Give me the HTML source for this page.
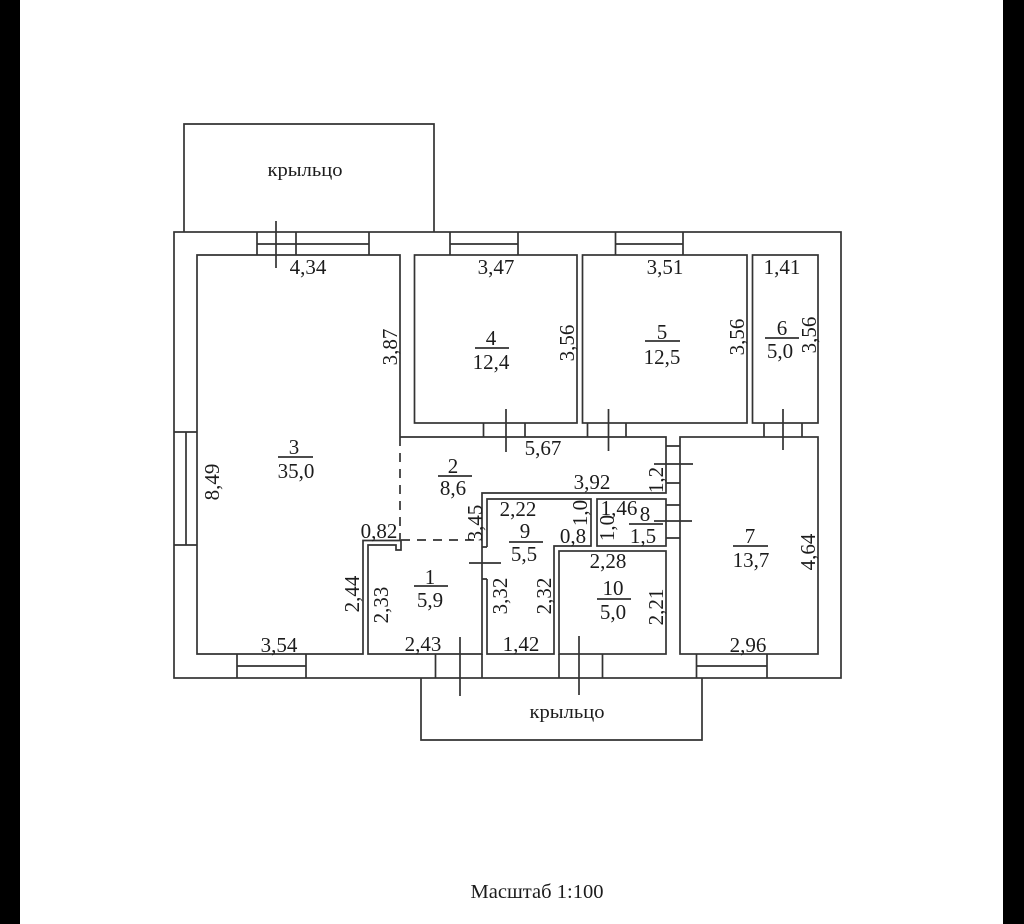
<!DOCTYPE html>
<html><head><meta charset="utf-8"><style>
html,body{margin:0;padding:0;background:#fff}
svg{display:block}
text{font-family:"Liberation Serif",serif;font-size:21px;fill:#1c1c1c;text-anchor:middle}
.l{fill:none;stroke:#333;stroke-width:1.7}
</style></head><body>
<svg width="1024" height="924" viewBox="0 0 1024 924" xmlns="http://www.w3.org/2000/svg">
<rect width="1024" height="924" fill="#fff"/>
<rect x="0" y="0" width="20" height="924" fill="#000"/>
<rect x="1003" y="0" width="21" height="924" fill="#000"/>
<g class="l">
<rect x="174" y="232" width="667" height="446"/>
<path d="M184 232V124H434V232"/>
<path d="M421 678V740H702V678"/>
<path d="M400 437V255H197V654H363V540.5H401V550H396V545H368V654H482V493H666V437H400"/>
<path d="M400 437V540M401 540H482" stroke-dasharray="9 7"/>
<rect x="414.500" y="255" width="162.500" height="168"/>
<rect x="582.500" y="255" width="164.500" height="168"/>
<rect x="752.500" y="255" width="65.500" height="168"/>
<rect x="680" y="437" width="138" height="217"/>
<rect x="597" y="499" width="69" height="47"/>
<rect x="559" y="551" width="107" height="103"/>
<path d="M487 547V499H591V546H554V654H487V579"/>
<path d="M482 547H487M482 579H487"/>
<!-- windows -->
<path d="M257 232V255M369 232V255M296 232V255M257 244H369"/>
<path d="M450 232V255M518 232V255M450 244H518"/>
<path d="M615.500 232V255M683 232V255M615.500 244H683"/>
<path d="M174 432H197M174 545H197M186 432V545"/>
<path d="M237 654V678M306 654V678M237 666H306"/>
<path d="M696.500 654V678M767 654V678M696.500 666H767"/>
<!-- doors -->
<path d="M483.500 423V437M525 423V437M506 409V452"/>
<path d="M587.500 423V437M626 423V437M608.500 409V451"/>
<path d="M764 423V437M802 423V437M783 409V450"/>
<path d="M276 221V268"/>
<path d="M666 446H680M666 483H680M654 464H693"/>
<path d="M666 505H680M666 538H680M654 521H692"/>
<path d="M469 563H501"/>
<path d="M435.500 654V678M482 654V678M460 637V696"/>
<path d="M559 654V678M602.500 654V678M579 636V695"/>
<!-- fraction lines -->
<path d="M278 457H313M475 348H509M645 341H680M765 338H799M438 476H472M509 542H543M629 524H663M414 586H448M597 599H631M733 546H768"/>
</g>
<text x="305" y="176" style="font-size:19px" textLength="75" lengthAdjust="spacingAndGlyphs">крыльцо</text>
<text x="567" y="718" style="font-size:19px" textLength="75" lengthAdjust="spacingAndGlyphs">крыльцо</text>
<text x="537" y="898" style="font-size:19.500px" textLength="133" lengthAdjust="spacingAndGlyphs">Масштаб 1:100</text>

<text x="308" y="274">4,34</text>
<text x="496" y="274">3,47</text>
<text x="665" y="274">3,51</text>
<text x="782" y="274">1,41</text>
<text x="491" y="345">4</text><text x="491" y="369">12,4</text>
<text x="662" y="339">5</text><text x="662" y="364">12,5</text>
<text x="782" y="335">6</text><text x="780" y="358">5,0</text>
<text x="543" y="455">5,67</text>
<text x="453" y="473">2</text><text x="453" y="495">8,6</text>
<text x="592" y="489">3,92</text>
<text x="518" y="516">2,22</text>
<text x="619" y="515">1,46</text>
<text x="645" y="521">8</text><text x="643" y="543">1,5</text>
<text x="525" y="538">9</text><text x="524" y="561">5,5</text>
<text x="573" y="543">0,8</text>
<text x="379" y="538">0,82</text>
<text x="430" y="584">1</text><text x="430" y="607">5,9</text>
<text x="608" y="568">2,28</text>
<text x="613" y="595">10</text><text x="613" y="619">5,0</text>
<text x="423" y="651">2,43</text>
<text x="521" y="651">1,42</text>
<text x="294" y="454">3</text><text x="296" y="478">35,0</text>
<text x="279" y="652">3,54</text>
<text x="750" y="543">7</text><text x="751" y="567">13,7</text>
<text x="748" y="652">2,96</text>

<text transform="translate(397 347) rotate(-90)">3,87</text>
<text transform="translate(574 343) rotate(-90)">3,56</text>
<text transform="translate(744 337) rotate(-90)">3,56</text>
<text transform="translate(816 335) rotate(-90)">3,56</text>
<text transform="translate(663 480) rotate(-90)">1,2</text>
<text transform="translate(587 513) rotate(-90)">1,0</text>
<text transform="translate(614 528) rotate(-90)">1,0</text>
<text transform="translate(482 523) rotate(-90)">3,45</text>
<text transform="translate(388 605) rotate(-90)">2,33</text>
<text transform="translate(359 594) rotate(-90)">2,44</text>
<text transform="translate(507 596) rotate(-90)">3,32</text>
<text transform="translate(551 596) rotate(-90)">2,32</text>
<text transform="translate(663 607) rotate(-90)">2,21</text>
<text transform="translate(219 482) rotate(-90)">8,49</text>
<text transform="translate(815 552) rotate(-90)">4,64</text>
</svg>
</body></html>
